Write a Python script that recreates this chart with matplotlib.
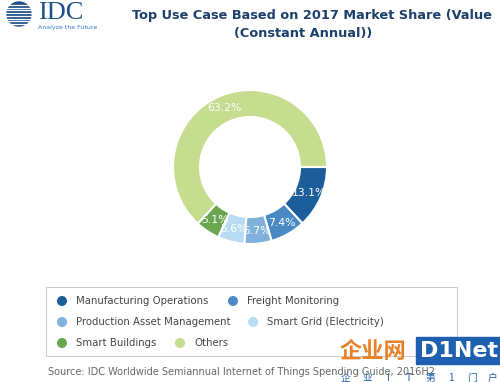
import numpy as np
import matplotlib
matplotlib.use('Agg')
import matplotlib.pyplot as plt
from matplotlib.patches import Circle, Rectangle

# data
categories = ['Manufacturing Operations', 'Freight Monitoring',
              'Production Asset Management', 'Smart Grid (Electricity)',
              'Smart Buildings', 'Others']
shares = [13.1, 7.4, 5.7, 5.6, 5.1, 63.2]
colors = ['#1c5e9c', '#4a8ac4', '#7fb1da', '#b8dcf4', '#6aa650', '#c6dc8e']

title_lines = ['Top Use Case Based on 2017 Market Share (Value',
               '(Constant Annual))']
source_text = 'Source: IDC Worldwide Semiannual Internet of Things Spending Guide, 2016H2'
watermark_chars = ['企', '业', 'I', 'T', '第', '1', '门', '户']

W, H = 500, 382
fig = plt.figure(figsize=(5, 3.82), dpi=100)
ax = fig.add_axes([0, 0, 1, 1])
ax.set_xlim(0, W)
ax.set_ylim(0, H)
ax.set_aspect('equal')
ax.axis('off')


def Y(y):
    # pixel row from the top -> data y
    return H - y


# donut
wedges, texts = ax.pie(shares, colors=colors, center=(250, Y(167)), radius=77,
                       startangle=0, counterclock=False,
                       labels=[f'{v}%' for v in shares], labeldistance=0.83,
                       wedgeprops=dict(width=27, edgecolor='white', linewidth=1.5),
                       textprops=dict(color='white', fontsize=7.8))
for t in texts:
    t.set_ha('center')
    t.set_va('center')
ax.set_xlim(0, W)
ax.set_ylim(0, H)

# title
ax.text(312, Y(15), title_lines[0], ha='center', va='center', fontsize=9.3,
        fontweight='bold', color='#1d3f6c')
ax.text(303, Y(33), title_lines[1], ha='center', va='center', fontsize=9.3,
        fontweight='bold', color='#1d3f6c')

# IDC logo
ax.add_patch(Circle((19, Y(14)), 12, color='#1f4f8a'))
for yy in np.linspace(5, 24, 8):
    ax.plot([2, 33], [Y(yy), Y(yy)], color='white', lw=0.9)
ax.text(38, Y(13), 'IDC', ha='left', va='center', fontsize=19,
        family='Liberation Serif', color='#1f4f8a')
ax.text(38, Y(27), 'Analyze the Future', ha='left', va='center', fontsize=4.5,
        color='#3b78c0')

# legend box
ax.add_patch(Rectangle((46, Y(356)), 411, 69, fill=False, edgecolor='#cccccc', lw=0.8))
leg_pos = [(62, 301), (233, 301), (62, 322), (253, 322), (62, 343), (180, 343)]
for (lx, ly), name, c in zip(leg_pos, categories, colors):
    ax.add_patch(Circle((lx, Y(ly)), 4.3, color=c))
    ax.text(lx + 14, Y(ly), name, ha='left', va='center', fontsize=7.3,
            color='#444444')

# source
ax.text(48, Y(372), source_text, ha='left', va='center', fontsize=7.0,
        color='#666666')

# watermark
ax.text(340, Y(351), '企业网', ha='left', va='center', fontsize=16,
        fontweight='bold', family=['Noto Sans CJK SC', 'DejaVu Sans'], color='#e8822a')
ax.add_patch(Rectangle((416, Y(364)), 84, 27, color='#1f5fb0'))
ax.text(420, Y(351), 'D1Net', ha='left', va='center', fontsize=16,
        fontweight='bold', color='white')
for k, ch in enumerate(watermark_chars):
    ax.text(346 + k * 21, Y(378), ch, ha='center', va='center', fontsize=7,
            family=['Noto Sans CJK SC', 'DejaVu Sans'], color='#1f5fb0')

fig.savefig('out.png', dpi=100)
